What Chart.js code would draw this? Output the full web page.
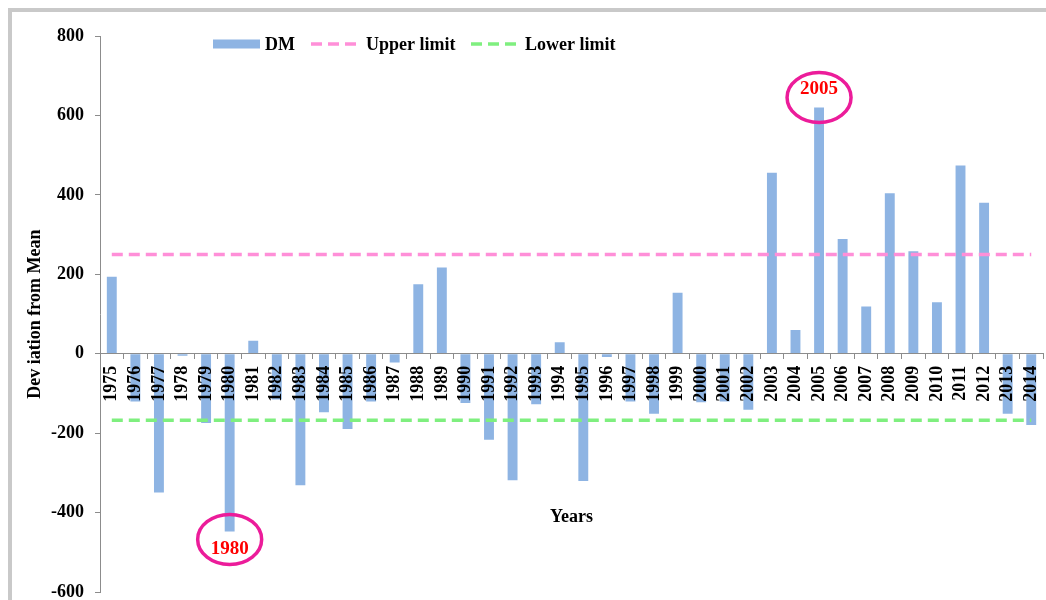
<!DOCTYPE html>
<html>
<head>
<meta charset="utf-8">
<script src="https://cdn.jsdelivr.net/npm/chart.js@4/dist/chart.umd.min.js"></script>
<style>
  html, body { margin: 0; padding: 0; width: 1046px; height: 600px; overflow: hidden; background: #fff; }
  #frame { position: absolute; left: 8px; top: 8px; width: 1200px; height: 800px; border: 4px solid #c9c9c9; box-sizing: border-box; background: #fff; }
  #wrap { position: absolute; left: 0; top: 0; width: 1060px; height: 614px; }
</style>
</head>
<body>
<div id="frame"></div>
<div id="wrap"><canvas id="c" width="1060" height="614"></canvas></div>
<script>
// ---- data ----
const years = ['1975','1976','1977','1978','1979','1980','1981','1982','1983','1984',
               '1985','1986','1987','1988','1989','1990','1991','1992','1993','1994',
               '1995','1996','1997','1998','1999','2000','2001','2002','2003','2004',
               '2005','2006','2007','2008','2009','2010','2011','2012','2013','2014'];
const dm = [194, -120, -349, -5, -174, -447, 33, -115, -331, -147,
            -189, -120, -22, 175, 217, -124, -216, -318, -127, 29,
            -320, -8, -120, -151, 154, -122, -120, -141, 456, 60,
            620, 289, 119, 404, 258, 130, 474, 380, -151, -179];
const upperLimit = 250;
const lowerLimit = -167;
const yTicks = [-600, -400, -200, 0, 200, 400, 600, 800];
const highlightedYears = ['1980', '2005'];
const seriesNames = ['DM', 'Upper limit', 'Lower limit'];

// ---- styles ----
const FONT = "'Liberation Serif', 'Times New Roman', serif";
Chart.defaults.font.family = FONT;
Chart.defaults.font.size = 18;
Chart.defaults.font.weight = 'bold';
Chart.defaults.color = '#000';
const BAR = '#8eb4e3';
const PINK = '#ff8fd8';
const GREEN = '#7fef7f';
const AXIS = '#8c8c8c';

const legendPlugin = {
  id: 'customLegend',
  afterDraw(chart) {
    const ctx = chart.ctx;
    const ds = chart.data.datasets;
    ctx.save();
    ctx.font = 'bold 18px ' + FONT;
    ctx.textBaseline = 'middle';
    const y = 44;
    ctx.fillStyle = ds[0].backgroundColor;
    ctx.fillRect(213, y - 4.5, 47, 9);
    ctx.fillStyle = '#000';
    ctx.fillText(ds[0].label, 265, y + 1);
    const items = [[1, 311, 366], [2, 471, 525]];
    items.forEach(([i, x0, tx]) => {
      ctx.strokeStyle = ds[i].borderColor;
      ctx.lineWidth = ds[i].borderWidth;
      ctx.setLineDash(ds[i].borderDash);
      ctx.beginPath();
      ctx.moveTo(x0, y);
      ctx.lineTo(x0 + 45, y);
      ctx.stroke();
      ctx.setLineDash([]);
      ctx.fillStyle = '#000';
      ctx.fillText(ds[i].label, tx, y + 1);
    });
    ctx.restore();
  }
};

const highlightPlugin = {
  id: 'highlight',
  afterDraw(chart) {
    const ctx = chart.ctx;
    const xs = chart.scales.x, ys = chart.scales.y;
    ctx.save();
    highlightedYears.forEach(yr => {
      const i = years.indexOf(yr);
      const v = dm[i];
      const cx = xs.getPixelForValue(i);
      const end = ys.getPixelForValue(v);
      const cy = v > 0 ? end - 10 : end + 8;
      ctx.strokeStyle = '#ec1c9a';
      ctx.lineWidth = 3.5;
      ctx.beginPath();
      ctx.ellipse(cx, cy, 32, 25, 0, 0, Math.PI * 2);
      ctx.stroke();
      ctx.fillStyle = '#ff0000';
      ctx.font = 'bold 19px ' + FONT;
      ctx.textAlign = 'center';
      ctx.textBaseline = 'middle';
      ctx.fillText(yr, cx, v > 0 ? cy - 8 : cy + 10);
    });
    ctx.restore();
  }
};

new Chart(document.getElementById('c'), {
  type: 'bar',
  data: {
    labels: years,
    datasets: [
      {
        label: seriesNames[0],
        data: dm,
        backgroundColor: BAR,
        borderWidth: 0,
        barPercentage: 0.42,
        categoryPercentage: 1.0,
        order: 2
      },
      {
        type: 'line',
        label: seriesNames[1],
        data: [{x: years[0], y: upperLimit}, {x: years[years.length - 1], y: upperLimit}],
        borderColor: PINK,
        backgroundColor: PINK,
        borderWidth: 3.5,
        borderDash: [11, 6],
        pointRadius: 0,
        fill: false,
        order: 1
      },
      {
        type: 'line',
        label: seriesNames[2],
        data: [{x: years[0], y: lowerLimit}, {x: years[years.length - 1], y: lowerLimit}],
        borderColor: GREEN,
        backgroundColor: GREEN,
        borderWidth: 3.5,
        borderDash: [11, 6],
        pointRadius: 0,
        fill: false,
        order: 1
      }
    ]
  },
  options: {
    responsive: false,
    animation: false,
    devicePixelRatio: 1,
    layout: { padding: { top: 36, right: 13, left: 0, bottom: 0 } },
    plugins: {
      legend: { display: false },
      tooltip: { enabled: false },
      title: { display: false }
    },
    scales: {
      x: {
        type: 'category',
        position: { y: 0 },
        offset: true,
        grid: { display: true, drawOnChartArea: false, drawTicks: true, tickLength: 5, offset: true, color: AXIS, z: 1 },
        border: { display: true, color: AXIS, width: 1, z: 1 },
        ticks: { z: 1, autoSkip: false, minRotation: 90, maxRotation: 90, padding: 7, font: { size: 18, weight: 'bold' }, color: '#000' },
        title: { display: true, text: 'Years', padding: { top: 0, bottom: 6 }, font: { size: 18, weight: 'bold' }, color: '#000' },
        afterFit(scale) { scale.height = 180; }
      },
      y: {
        min: -600,
        max: 800,
        afterBuildTicks(scale) { scale.ticks = yTicks.map(v => ({ value: v })); },
        grid: { display: true, drawOnChartArea: false, drawTicks: true, tickLength: 5, color: AXIS },
        border: { display: true, color: AXIS, width: 1 },
        ticks: { padding: 11, font: { size: 18, weight: 'bold' }, color: '#000' },
        title: { display: true, text: 'Dev iation from Mean', padding: { top: 25, bottom: 0 }, font: { size: 18, weight: 'bold' }, color: '#000' },
        afterFit(scale) { scale.width = 100; }
      }
    }
  },
  plugins: [legendPlugin, highlightPlugin]
});
</script>
</body>
</html>
